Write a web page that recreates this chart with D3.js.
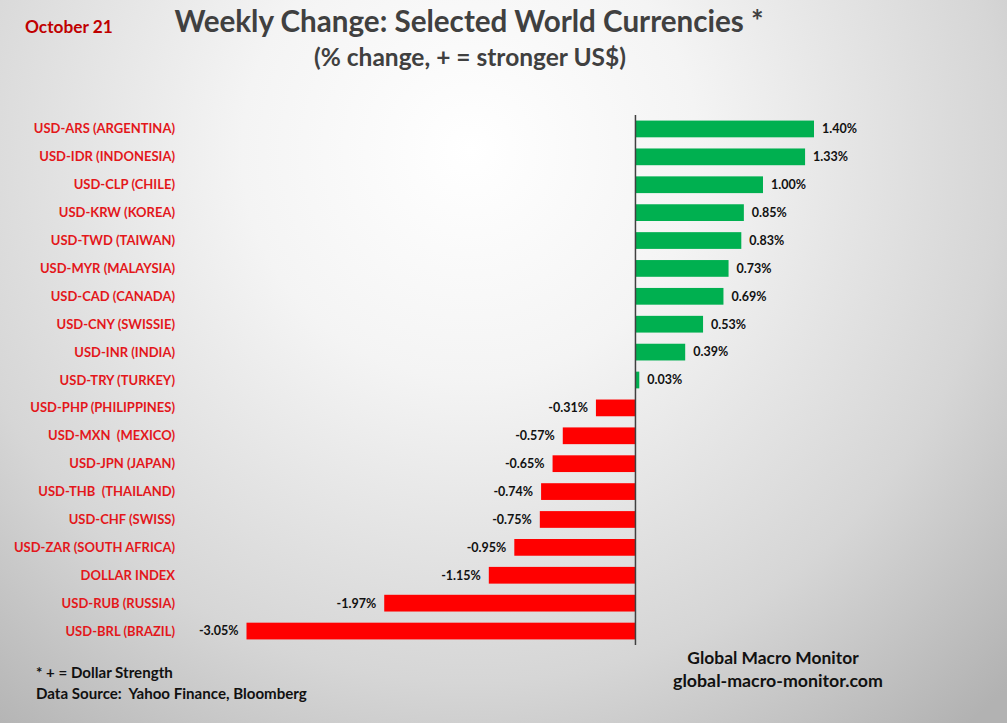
<!DOCTYPE html>
<html>
<head>
<meta charset="utf-8">
<script src="https://cdn.jsdelivr.net/npm/d3@7"></script>
<style>
  html, body { margin: 0; padding: 0; }
  body { width: 1007px; height: 723px; overflow: hidden; }
  svg { display: block; font-family: Lato, "Open Sans", sans-serif; }
</style>
</head>
<body>
<div id="chart"></div>
<script>
// weekly % change, + = stronger US$
const currencies = [
  "USD-ARS (ARGENTINA)", "USD-IDR (INDONESIA)", "USD-CLP (CHILE)", "USD-KRW (KOREA)",
  "USD-TWD (TAIWAN)", "USD-MYR (MALAYSIA)", "USD-CAD (CANADA)", "USD-CNY (SWISSIE)",
  "USD-INR (INDIA)", "USD-TRY (TURKEY)", "USD-PHP (PHILIPPINES)", "USD-MXN  (MEXICO)",
  "USD-JPN (JAPAN)", "USD-THB  (THAILAND)", "USD-CHF (SWISS)", "USD-ZAR (SOUTH AFRICA)",
  "DOLLAR INDEX", "USD-RUB (RUSSIA)", "USD-BRL (BRAZIL)"
];
const changes = [1.40, 1.33, 1.00, 0.85, 0.83, 0.73, 0.69, 0.53, 0.39, 0.03,
  -0.31, -0.57, -0.65, -0.74, -0.75, -0.95, -1.15, -1.97, -3.05];
const valueLabels = ["1.40%", "1.33%", "1.00%", "0.85%", "0.83%", "0.73%", "0.69%", "0.53%", "0.39%", "0.03%",
  "-0.31%", "-0.57%", "-0.65%", "-0.74%", "-0.75%", "-0.95%", "-1.15%", "-1.97%", "-3.05%"];

const width = 1007, height = 723;
const svg = d3.select('#chart').append('svg')
  .attr('width', width).attr('height', height);

// background: light centre fading to grey at the edges
const defs = svg.append('defs');
const grad = defs.append('radialGradient')
  .attr('id', 'bg')
  .attr('gradientUnits', 'userSpaceOnUse')
  .attr('cx', 470).attr('cy', 150).attr('r', 760);
grad.append('stop').attr('offset', '0%').attr('stop-color', '#ffffff');
grad.append('stop').attr('offset', '30%').attr('stop-color', '#f4f4f4');
grad.append('stop').attr('offset', '70%').attr('stop-color', '#d6d6d6');
grad.append('stop').attr('offset', '100%').attr('stop-color', '#b2b2b2');
svg.append('rect').attr('width', width).attr('height', height).attr('fill', 'url(#bg)');

const x = d3.scaleLinear().domain([-3.05, 1.40]).range([246.5, 814]);
const y = d3.scaleBand().domain(currencies).range([115, 645]).paddingInner(0.4).paddingOuter(0.2);

const rows = svg.append('g').selectAll('g')
  .data(currencies.map((c, i) => ({ name: c, value: changes[i], label: valueLabels[i] })))
  .join('g');

rows.append('rect')
  .attr('x', d => x(Math.min(0, d.value)))
  .attr('y', d => y(d.name))
  .attr('width', d => Math.abs(x(d.value) - x(0)))
  .attr('height', y.bandwidth())
  .attr('fill', d => d.value >= 0 ? '#00b050' : '#ff0000');

rows.append('text')
  .attr('x', 175)
  .attr('y', d => y(d.name) + y.bandwidth() / 2)
  .attr('dy', '0.35em')
  .attr('text-anchor', 'end')
  .attr('fill', '#e3171b')
  .attr('font-size', 13)
  .attr('font-weight', 700)
  .style('white-space', 'pre')
  .text(d => d.name);

rows.append('text')
  .attr('x', d => d.value >= 0 ? x(d.value) + 8 : x(d.value) - 8)
  .attr('y', d => y(d.name) + y.bandwidth() / 2)
  .attr('dy', '0.35em')
  .attr('text-anchor', d => d.value >= 0 ? 'start' : 'end')
  .attr('fill', '#111')
  .attr('font-size', 12.5)
  .attr('font-weight', 700)
  .text(d => d.label);

// zero line
svg.append('line')
  .attr('x1', x(0)).attr('x2', x(0))
  .attr('y1', 115).attr('y2', 645)
  .attr('stroke', '#404040').attr('stroke-width', 1.5);

// titles
svg.append('text').attr('x', 469).attr('y', 32)
  .attr('text-anchor', 'middle').attr('fill', '#404040')
  .attr('font-size', 29.6).attr('font-weight', 700)
  .text('Weekly Change: Selected World Currencies *');
svg.append('text').attr('x', 470).attr('y', 66)
  .attr('text-anchor', 'middle').attr('fill', '#404040')
  .attr('font-size', 24.5).attr('font-weight', 700)
  .text('(% change, + = stronger US$)');
svg.append('text').attr('x', 25).attr('y', 33)
  .attr('fill', '#c00000').attr('font-size', 17.3).attr('font-weight', 700)
  .text('October 21');

// footnotes
svg.append('text').attr('x', 36).attr('y', 678)
  .attr('fill', '#111').attr('font-size', 15.1).attr('font-weight', 700)
  .text('* + = Dollar Strength');
svg.append('text').attr('x', 36).attr('y', 699)
  .attr('fill', '#111').attr('font-size', 15.1).attr('font-weight', 700)
  .style('white-space', 'pre')
  .text('Data Source:  Yahoo Finance, Bloomberg');
svg.append('text').attr('x', 773).attr('y', 664)
  .attr('text-anchor', 'middle').attr('fill', '#111').attr('font-size', 17.4).attr('font-weight', 700)
  .text('Global Macro Monitor');
svg.append('text').attr('x', 778).attr('y', 687)
  .attr('text-anchor', 'middle').attr('fill', '#111').attr('font-size', 17.8).attr('font-weight', 700)
  .text('global-macro-monitor.com');
</script>
</body>
</html>
